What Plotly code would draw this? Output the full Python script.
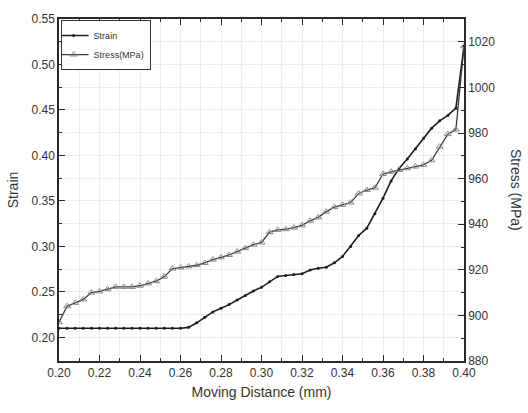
import plotly.graph_objects as go

# Moving distance (mm)
distance = [round(0.200 + 0.004 * i, 3) for i in range(51)]

# Strain (left axis)
strain = [0.210, 0.210, 0.210, 0.210, 0.210, 0.210, 0.210, 0.210, 0.210, 0.210,
          0.210, 0.210, 0.210, 0.210, 0.210, 0.210, 0.211, 0.216, 0.222, 0.228,
          0.232, 0.236, 0.241, 0.246, 0.251, 0.255, 0.261, 0.267, 0.268, 0.269,
          0.270, 0.274, 0.276, 0.277, 0.282, 0.289, 0.300, 0.312, 0.320, 0.336,
          0.353, 0.372, 0.386, 0.396, 0.407, 0.419, 0.430, 0.438, 0.444, 0.452,
          0.520]

# Stress in MPa (right axis)
stress = [897.0, 904.0, 905.5, 907.0, 910.0, 910.5, 911.5, 912.5, 912.5, 912.5,
          913.0, 914.0, 915.0, 917.0, 920.5, 921.0, 921.5, 922.0, 923.0, 924.5,
          925.5, 926.5, 928.0, 929.5, 931.0, 932.0, 936.5, 937.5, 937.8, 938.5,
          939.5, 941.5, 943.0, 945.5, 947.5, 948.5, 949.5, 953.5, 955.0, 956.0,
          962.0, 963.0, 963.8, 964.5, 965.3, 966.0, 968.0, 974.0, 979.5, 981.5,
          1018.0]

FONT = "Liberation Sans, Arial, sans-serif"

fig = go.Figure()
fig.add_trace(go.Scatter(
    x=distance, y=strain, name="Strain", mode="lines+markers",
    line=dict(color="#1e1e1e", width=1.6),
    marker=dict(symbol="circle", size=3, color="#1e1e1e"),
))
fig.add_trace(go.Scatter(
    x=distance, y=stress, name="Stress(MPa)", mode="lines+markers", yaxis="y2",
    line=dict(color="#3a3a3a", width=1.3),
    marker=dict(symbol="triangle-up-open", size=6, color="#8a8a8a",
                line=dict(width=1)),
))

axis_common = dict(
    showline=True, linecolor="#2a2a2a", linewidth=1.5,
    ticks="inside", ticklen=6, tickwidth=1.2, tickcolor="#2a2a2a",
    tickfont=dict(family=FONT, size=12, color="#333333"),
    zeroline=False,
)

fig.update_layout(
    width=528, height=413,
    margin=dict(l=59, r=64, t=14, b=52),
    paper_bgcolor="white", plot_bgcolor="white",
    font=dict(family=FONT, color="#333333"),
    showlegend=True,
    legend=dict(x=0.004, y=0.997, xanchor="left", yanchor="top",
                bgcolor="white", bordercolor="#333333", borderwidth=1,
                font=dict(family=FONT, size=9, color="#333333"),
                tracegroupgap=0, itemwidth=30, indentation=-8),
    xaxis=dict(
        range=[0.2, 0.4], tickvals=[0.20, 0.22, 0.24, 0.26, 0.28, 0.30, 0.32,
                                    0.34, 0.36, 0.38, 0.40],
        tickformat=".2f", mirror="ticks",
        showgrid=True, gridcolor="#ececec", gridwidth=1,
        minor=dict(dtick=0.01, tick0=0.2, showgrid=True, gridcolor="#ececec",
                   ticks="inside", ticklen=3, tickcolor="#2a2a2a"),
        title=dict(text="Moving Distance (mm)",
                   font=dict(family=FONT, size=14, color="#333333"),
                   standoff=8),
        **axis_common,
    ),
    yaxis=dict(
        range=[0.174, 0.55], tickvals=[0.20, 0.25, 0.30, 0.35, 0.40, 0.45, 0.50, 0.55],
        tickformat=".2f",
        showgrid=True, gridcolor="#ececec", gridwidth=1,
        minor=dict(dtick=0.025, tick0=0.2, showgrid=True, gridcolor="#ececec",
                   ticks="inside", ticklen=3, tickcolor="#2a2a2a"),
        title=dict(text="Strain", font=dict(family=FONT, size=14, color="#333333"),
                   standoff=10),
        **axis_common,
    ),
    yaxis2=dict(
        range=[880, 1030], overlaying="y", side="right",
        tickvals=[880, 900, 920, 940, 960, 980, 1000, 1020],
        showgrid=False,
        minor=dict(dtick=10, tick0=880, ticks="inside", ticklen=3,
                   tickcolor="#2a2a2a"),
        **axis_common,
    ),
    annotations=[dict(
        text="Stress (MPa)", textangle=90, showarrow=False,
        xref="paper", yref="paper", x=1.0, y=0.5, xanchor="left",
        xshift=42, font=dict(family=FONT, size=14, color="#333333"),
    )],
)

fig.write_html("out.html")
